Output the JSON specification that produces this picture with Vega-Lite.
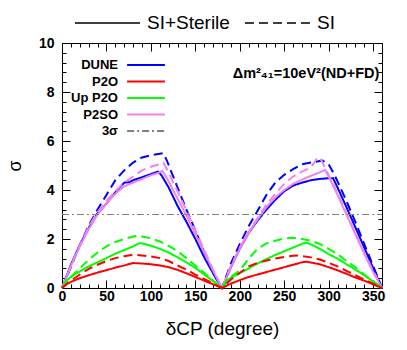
{
 "$schema": "https://vega.github.io/schema/vega-lite/v6.json",
 "width": 320,
 "height": 245,
 "autosize": {"type": "none"},
 "padding": {"left": 62, "top": 43, "right": 25, "bottom": 62},
 "background": "white",
 "config": {"view": {"stroke": "black", "strokeWidth": 1}, "font": "Liberation Sans"},
 "resolve": {"axis": {"x": "independent", "y": "independent"}},
 "layer": [
  {
   "data": {"values": [
    {"e":"DUNE","m":"SI+Sterile","x":0,"y":0},{"e":"DUNE","m":"SI+Sterile","x":10,"y":0.95},{"e":"DUNE","m":"SI+Sterile","x":20,"y":1.75},{"e":"DUNE","m":"SI+Sterile","x":30,"y":2.45},{"e":"DUNE","m":"SI+Sterile","x":40,"y":3.05},{"e":"DUNE","m":"SI+Sterile","x":50,"y":3.45},{"e":"DUNE","m":"SI+Sterile","x":60,"y":3.9},{"e":"DUNE","m":"SI+Sterile","x":70,"y":4.3},{"e":"DUNE","m":"SI+Sterile","x":76,"y":4.32},{"e":"DUNE","m":"SI+Sterile","x":80,"y":4.4},{"e":"DUNE","m":"SI+Sterile","x":90,"y":4.52},{"e":"DUNE","m":"SI+Sterile","x":100,"y":4.65},{"e":"DUNE","m":"SI+Sterile","x":108,"y":4.75},{"e":"DUNE","m":"SI+Sterile","x":112,"y":4.6},{"e":"DUNE","m":"SI+Sterile","x":120,"y":4.1},{"e":"DUNE","m":"SI+Sterile","x":130,"y":3.35},{"e":"DUNE","m":"SI+Sterile","x":140,"y":2.7},{"e":"DUNE","m":"SI+Sterile","x":150,"y":2.0},{"e":"DUNE","m":"SI+Sterile","x":160,"y":1.25},{"e":"DUNE","m":"SI+Sterile","x":170,"y":0.6},{"e":"DUNE","m":"SI+Sterile","x":180,"y":0},{"e":"DUNE","m":"SI+Sterile","x":190,"y":0.85},{"e":"DUNE","m":"SI+Sterile","x":200,"y":1.6},{"e":"DUNE","m":"SI+Sterile","x":210,"y":2.25},{"e":"DUNE","m":"SI+Sterile","x":220,"y":2.75},{"e":"DUNE","m":"SI+Sterile","x":230,"y":3.2},{"e":"DUNE","m":"SI+Sterile","x":240,"y":3.6},{"e":"DUNE","m":"SI+Sterile","x":250,"y":3.95},{"e":"DUNE","m":"SI+Sterile","x":260,"y":4.18},{"e":"DUNE","m":"SI+Sterile","x":270,"y":4.3},{"e":"DUNE","m":"SI+Sterile","x":280,"y":4.4},{"e":"DUNE","m":"SI+Sterile","x":290,"y":4.45},{"e":"DUNE","m":"SI+Sterile","x":300,"y":4.48},{"e":"DUNE","m":"SI+Sterile","x":305,"y":4.48},{"e":"DUNE","m":"SI+Sterile","x":310,"y":4.1},{"e":"DUNE","m":"SI+Sterile","x":320,"y":3.3},{"e":"DUNE","m":"SI+Sterile","x":330,"y":2.48},{"e":"DUNE","m":"SI+Sterile","x":340,"y":1.65},{"e":"DUNE","m":"SI+Sterile","x":350,"y":0.82},{"e":"DUNE","m":"SI+Sterile","x":360,"y":0},
    {"e":"DUNE","m":"SI","x":0,"y":0},{"e":"DUNE","m":"SI","x":10,"y":0.85},{"e":"DUNE","m":"SI","x":20,"y":1.75},{"e":"DUNE","m":"SI","x":30,"y":2.55},{"e":"DUNE","m":"SI","x":40,"y":3.2},{"e":"DUNE","m":"SI","x":50,"y":3.8},{"e":"DUNE","m":"SI","x":60,"y":4.4},{"e":"DUNE","m":"SI","x":70,"y":4.8},{"e":"DUNE","m":"SI","x":80,"y":5.12},{"e":"DUNE","m":"SI","x":90,"y":5.33},{"e":"DUNE","m":"SI","x":100,"y":5.42},{"e":"DUNE","m":"SI","x":110,"y":5.48},{"e":"DUNE","m":"SI","x":114,"y":5.5},{"e":"DUNE","m":"SI","x":118,"y":5.2},{"e":"DUNE","m":"SI","x":130,"y":4.1},{"e":"DUNE","m":"SI","x":140,"y":3.2},{"e":"DUNE","m":"SI","x":150,"y":2.35},{"e":"DUNE","m":"SI","x":160,"y":1.45},{"e":"DUNE","m":"SI","x":170,"y":0.6},{"e":"DUNE","m":"SI","x":180,"y":0},{"e":"DUNE","m":"SI","x":190,"y":1.0},{"e":"DUNE","m":"SI","x":200,"y":1.8},{"e":"DUNE","m":"SI","x":210,"y":2.52},{"e":"DUNE","m":"SI","x":220,"y":3.15},{"e":"DUNE","m":"SI","x":230,"y":3.8},{"e":"DUNE","m":"SI","x":240,"y":4.3},{"e":"DUNE","m":"SI","x":250,"y":4.62},{"e":"DUNE","m":"SI","x":260,"y":4.85},{"e":"DUNE","m":"SI","x":270,"y":5.05},{"e":"DUNE","m":"SI","x":280,"y":5.12},{"e":"DUNE","m":"SI","x":290,"y":5.18},{"e":"DUNE","m":"SI","x":293,"y":5.2},{"e":"DUNE","m":"SI","x":300,"y":5.05},{"e":"DUNE","m":"SI","x":306,"y":4.65},{"e":"DUNE","m":"SI","x":310,"y":4.35},{"e":"DUNE","m":"SI","x":320,"y":3.55},{"e":"DUNE","m":"SI","x":330,"y":2.7},{"e":"DUNE","m":"SI","x":340,"y":1.8},{"e":"DUNE","m":"SI","x":350,"y":0.9},{"e":"DUNE","m":"SI","x":360,"y":0},
    {"e":"P2SO","m":"SI+Sterile","x":0,"y":0},{"e":"P2SO","m":"SI+Sterile","x":10,"y":0.9},{"e":"P2SO","m":"SI+Sterile","x":20,"y":1.7},{"e":"P2SO","m":"SI+Sterile","x":30,"y":2.4},{"e":"P2SO","m":"SI+Sterile","x":40,"y":3.0},{"e":"P2SO","m":"SI+Sterile","x":50,"y":3.45},{"e":"P2SO","m":"SI+Sterile","x":60,"y":3.85},{"e":"P2SO","m":"SI+Sterile","x":70,"y":4.15},{"e":"P2SO","m":"SI+Sterile","x":80,"y":4.3},{"e":"P2SO","m":"SI+Sterile","x":90,"y":4.45},{"e":"P2SO","m":"SI+Sterile","x":100,"y":4.6},{"e":"P2SO","m":"SI+Sterile","x":110,"y":4.72},{"e":"P2SO","m":"SI+Sterile","x":113,"y":4.78},{"e":"P2SO","m":"SI+Sterile","x":116,"y":4.6},{"e":"P2SO","m":"SI+Sterile","x":120,"y":4.35},{"e":"P2SO","m":"SI+Sterile","x":130,"y":3.65},{"e":"P2SO","m":"SI+Sterile","x":140,"y":2.95},{"e":"P2SO","m":"SI+Sterile","x":150,"y":2.2},{"e":"P2SO","m":"SI+Sterile","x":160,"y":1.45},{"e":"P2SO","m":"SI+Sterile","x":170,"y":0.7},{"e":"P2SO","m":"SI+Sterile","x":180,"y":0},{"e":"P2SO","m":"SI+Sterile","x":190,"y":0.85},{"e":"P2SO","m":"SI+Sterile","x":200,"y":1.6},{"e":"P2SO","m":"SI+Sterile","x":210,"y":2.25},{"e":"P2SO","m":"SI+Sterile","x":220,"y":2.8},{"e":"P2SO","m":"SI+Sterile","x":230,"y":3.3},{"e":"P2SO","m":"SI+Sterile","x":240,"y":3.7},{"e":"P2SO","m":"SI+Sterile","x":250,"y":4.0},{"e":"P2SO","m":"SI+Sterile","x":260,"y":4.25},{"e":"P2SO","m":"SI+Sterile","x":270,"y":4.42},{"e":"P2SO","m":"SI+Sterile","x":280,"y":4.58},{"e":"P2SO","m":"SI+Sterile","x":290,"y":4.72},{"e":"P2SO","m":"SI+Sterile","x":296,"y":4.82},{"e":"P2SO","m":"SI+Sterile","x":300,"y":4.55},{"e":"P2SO","m":"SI+Sterile","x":310,"y":3.8},{"e":"P2SO","m":"SI+Sterile","x":320,"y":3.0},{"e":"P2SO","m":"SI+Sterile","x":330,"y":2.2},{"e":"P2SO","m":"SI+Sterile","x":340,"y":1.4},{"e":"P2SO","m":"SI+Sterile","x":350,"y":0.65},{"e":"P2SO","m":"SI+Sterile","x":360,"y":0},
    {"e":"P2SO","m":"SI","x":0,"y":0},{"e":"P2SO","m":"SI","x":10,"y":0.9},{"e":"P2SO","m":"SI","x":20,"y":1.75},{"e":"P2SO","m":"SI","x":30,"y":2.5},{"e":"P2SO","m":"SI","x":40,"y":3.1},{"e":"P2SO","m":"SI","x":50,"y":3.55},{"e":"P2SO","m":"SI","x":60,"y":3.95},{"e":"P2SO","m":"SI","x":70,"y":4.3},{"e":"P2SO","m":"SI","x":80,"y":4.55},{"e":"P2SO","m":"SI","x":90,"y":4.8},{"e":"P2SO","m":"SI","x":100,"y":4.95},{"e":"P2SO","m":"SI","x":110,"y":5.05},{"e":"P2SO","m":"SI","x":114,"y":5.12},{"e":"P2SO","m":"SI","x":118,"y":4.85},{"e":"P2SO","m":"SI","x":130,"y":3.95},{"e":"P2SO","m":"SI","x":140,"y":3.15},{"e":"P2SO","m":"SI","x":150,"y":2.35},{"e":"P2SO","m":"SI","x":160,"y":1.55},{"e":"P2SO","m":"SI","x":170,"y":0.75},{"e":"P2SO","m":"SI","x":180,"y":0},{"e":"P2SO","m":"SI","x":190,"y":0.9},{"e":"P2SO","m":"SI","x":200,"y":1.65},{"e":"P2SO","m":"SI","x":210,"y":2.3},{"e":"P2SO","m":"SI","x":220,"y":2.85},{"e":"P2SO","m":"SI","x":230,"y":3.4},{"e":"P2SO","m":"SI","x":240,"y":3.85},{"e":"P2SO","m":"SI","x":250,"y":4.25},{"e":"P2SO","m":"SI","x":260,"y":4.55},{"e":"P2SO","m":"SI","x":270,"y":4.75},{"e":"P2SO","m":"SI","x":280,"y":4.92},{"e":"P2SO","m":"SI","x":288,"y":5.35},{"e":"P2SO","m":"SI","x":292,"y":5.2},{"e":"P2SO","m":"SI","x":300,"y":4.6},{"e":"P2SO","m":"SI","x":310,"y":3.85},{"e":"P2SO","m":"SI","x":320,"y":3.05},{"e":"P2SO","m":"SI","x":330,"y":2.25},{"e":"P2SO","m":"SI","x":340,"y":1.45},{"e":"P2SO","m":"SI","x":350,"y":0.7},{"e":"P2SO","m":"SI","x":360,"y":0},
    {"e":"Up P2O","m":"SI+Sterile","x":0,"y":0},{"e":"Up P2O","m":"SI+Sterile","x":5,"y":0.3},{"e":"Up P2O","m":"SI+Sterile","x":10,"y":0.45},{"e":"Up P2O","m":"SI+Sterile","x":20,"y":0.68},{"e":"Up P2O","m":"SI+Sterile","x":30,"y":0.88},{"e":"Up P2O","m":"SI+Sterile","x":40,"y":1.05},{"e":"Up P2O","m":"SI+Sterile","x":50,"y":1.22},{"e":"Up P2O","m":"SI+Sterile","x":60,"y":1.4},{"e":"Up P2O","m":"SI+Sterile","x":70,"y":1.55},{"e":"Up P2O","m":"SI+Sterile","x":80,"y":1.7},{"e":"Up P2O","m":"SI+Sterile","x":87,"y":1.83},{"e":"Up P2O","m":"SI+Sterile","x":90,"y":1.82},{"e":"Up P2O","m":"SI+Sterile","x":100,"y":1.73},{"e":"Up P2O","m":"SI+Sterile","x":110,"y":1.6},{"e":"Up P2O","m":"SI+Sterile","x":120,"y":1.45},{"e":"Up P2O","m":"SI+Sterile","x":130,"y":1.25},{"e":"Up P2O","m":"SI+Sterile","x":140,"y":1.05},{"e":"Up P2O","m":"SI+Sterile","x":150,"y":0.82},{"e":"Up P2O","m":"SI+Sterile","x":160,"y":0.55},{"e":"Up P2O","m":"SI+Sterile","x":170,"y":0.28},{"e":"Up P2O","m":"SI+Sterile","x":180,"y":0},{"e":"Up P2O","m":"SI+Sterile","x":185,"y":0.3},{"e":"Up P2O","m":"SI+Sterile","x":190,"y":0.42},{"e":"Up P2O","m":"SI+Sterile","x":200,"y":0.6},{"e":"Up P2O","m":"SI+Sterile","x":210,"y":0.8},{"e":"Up P2O","m":"SI+Sterile","x":220,"y":1.0},{"e":"Up P2O","m":"SI+Sterile","x":230,"y":1.18},{"e":"Up P2O","m":"SI+Sterile","x":240,"y":1.35},{"e":"Up P2O","m":"SI+Sterile","x":250,"y":1.5},{"e":"Up P2O","m":"SI+Sterile","x":260,"y":1.65},{"e":"Up P2O","m":"SI+Sterile","x":270,"y":1.8},{"e":"Up P2O","m":"SI+Sterile","x":275,"y":1.85},{"e":"Up P2O","m":"SI+Sterile","x":280,"y":1.78},{"e":"Up P2O","m":"SI+Sterile","x":290,"y":1.6},{"e":"Up P2O","m":"SI+Sterile","x":300,"y":1.38},{"e":"Up P2O","m":"SI+Sterile","x":310,"y":1.2},{"e":"Up P2O","m":"SI+Sterile","x":320,"y":0.97},{"e":"Up P2O","m":"SI+Sterile","x":330,"y":0.75},{"e":"Up P2O","m":"SI+Sterile","x":340,"y":0.52},{"e":"Up P2O","m":"SI+Sterile","x":350,"y":0.27},{"e":"Up P2O","m":"SI+Sterile","x":360,"y":0},
    {"e":"Up P2O","m":"SI","x":0,"y":0},{"e":"Up P2O","m":"SI","x":10,"y":0.45},{"e":"Up P2O","m":"SI","x":20,"y":0.8},{"e":"Up P2O","m":"SI","x":30,"y":1.15},{"e":"Up P2O","m":"SI","x":40,"y":1.45},{"e":"Up P2O","m":"SI","x":50,"y":1.7},{"e":"Up P2O","m":"SI","x":60,"y":1.88},{"e":"Up P2O","m":"SI","x":70,"y":2.0},{"e":"Up P2O","m":"SI","x":80,"y":2.1},{"e":"Up P2O","m":"SI","x":85,"y":2.13},{"e":"Up P2O","m":"SI","x":90,"y":2.1},{"e":"Up P2O","m":"SI","x":100,"y":2.03},{"e":"Up P2O","m":"SI","x":110,"y":1.9},{"e":"Up P2O","m":"SI","x":120,"y":1.72},{"e":"Up P2O","m":"SI","x":130,"y":1.5},{"e":"Up P2O","m":"SI","x":140,"y":1.22},{"e":"Up P2O","m":"SI","x":150,"y":0.92},{"e":"Up P2O","m":"SI","x":160,"y":0.62},{"e":"Up P2O","m":"SI","x":170,"y":0.3},{"e":"Up P2O","m":"SI","x":180,"y":0},{"e":"Up P2O","m":"SI","x":190,"y":0.45},{"e":"Up P2O","m":"SI","x":200,"y":0.72},{"e":"Up P2O","m":"SI","x":210,"y":1.2},{"e":"Up P2O","m":"SI","x":220,"y":1.6},{"e":"Up P2O","m":"SI","x":230,"y":1.82},{"e":"Up P2O","m":"SI","x":240,"y":1.93},{"e":"Up P2O","m":"SI","x":250,"y":2.02},{"e":"Up P2O","m":"SI","x":260,"y":2.05},{"e":"Up P2O","m":"SI","x":270,"y":2.0},{"e":"Up P2O","m":"SI","x":280,"y":1.93},{"e":"Up P2O","m":"SI","x":290,"y":1.8},{"e":"Up P2O","m":"SI","x":300,"y":1.6},{"e":"Up P2O","m":"SI","x":310,"y":1.38},{"e":"Up P2O","m":"SI","x":320,"y":1.1},{"e":"Up P2O","m":"SI","x":330,"y":0.85},{"e":"Up P2O","m":"SI","x":340,"y":0.55},{"e":"Up P2O","m":"SI","x":350,"y":0.27},{"e":"Up P2O","m":"SI","x":360,"y":0},
    {"e":"P2O","m":"SI+Sterile","x":0,"y":0},{"e":"P2O","m":"SI+Sterile","x":5,"y":0.15},{"e":"P2O","m":"SI+Sterile","x":10,"y":0.25},{"e":"P2O","m":"SI+Sterile","x":20,"y":0.4},{"e":"P2O","m":"SI+Sterile","x":30,"y":0.52},{"e":"P2O","m":"SI+Sterile","x":40,"y":0.63},{"e":"P2O","m":"SI+Sterile","x":50,"y":0.73},{"e":"P2O","m":"SI+Sterile","x":60,"y":0.83},{"e":"P2O","m":"SI+Sterile","x":70,"y":0.92},{"e":"P2O","m":"SI+Sterile","x":80,"y":1.02},{"e":"P2O","m":"SI+Sterile","x":90,"y":1.0},{"e":"P2O","m":"SI+Sterile","x":100,"y":0.97},{"e":"P2O","m":"SI+Sterile","x":110,"y":0.92},{"e":"P2O","m":"SI+Sterile","x":120,"y":0.85},{"e":"P2O","m":"SI+Sterile","x":130,"y":0.74},{"e":"P2O","m":"SI+Sterile","x":140,"y":0.6},{"e":"P2O","m":"SI+Sterile","x":150,"y":0.45},{"e":"P2O","m":"SI+Sterile","x":160,"y":0.3},{"e":"P2O","m":"SI+Sterile","x":170,"y":0.15},{"e":"P2O","m":"SI+Sterile","x":180,"y":0},{"e":"P2O","m":"SI+Sterile","x":190,"y":0.18},{"e":"P2O","m":"SI+Sterile","x":200,"y":0.32},{"e":"P2O","m":"SI+Sterile","x":210,"y":0.45},{"e":"P2O","m":"SI+Sterile","x":220,"y":0.55},{"e":"P2O","m":"SI+Sterile","x":230,"y":0.65},{"e":"P2O","m":"SI+Sterile","x":240,"y":0.75},{"e":"P2O","m":"SI+Sterile","x":250,"y":0.85},{"e":"P2O","m":"SI+Sterile","x":260,"y":0.95},{"e":"P2O","m":"SI+Sterile","x":270,"y":1.05},{"e":"P2O","m":"SI+Sterile","x":275,"y":1.07},{"e":"P2O","m":"SI+Sterile","x":280,"y":1.04},{"e":"P2O","m":"SI+Sterile","x":290,"y":0.97},{"e":"P2O","m":"SI+Sterile","x":300,"y":0.85},{"e":"P2O","m":"SI+Sterile","x":310,"y":0.72},{"e":"P2O","m":"SI+Sterile","x":320,"y":0.58},{"e":"P2O","m":"SI+Sterile","x":330,"y":0.43},{"e":"P2O","m":"SI+Sterile","x":340,"y":0.3},{"e":"P2O","m":"SI+Sterile","x":350,"y":0.15},{"e":"P2O","m":"SI+Sterile","x":360,"y":0},
    {"e":"P2O","m":"SI","x":0,"y":0},{"e":"P2O","m":"SI","x":10,"y":0.3},{"e":"P2O","m":"SI","x":20,"y":0.55},{"e":"P2O","m":"SI","x":30,"y":0.78},{"e":"P2O","m":"SI","x":40,"y":0.95},{"e":"P2O","m":"SI","x":50,"y":1.1},{"e":"P2O","m":"SI","x":60,"y":1.22},{"e":"P2O","m":"SI","x":70,"y":1.3},{"e":"P2O","m":"SI","x":80,"y":1.36},{"e":"P2O","m":"SI","x":90,"y":1.33},{"e":"P2O","m":"SI","x":100,"y":1.29},{"e":"P2O","m":"SI","x":110,"y":1.22},{"e":"P2O","m":"SI","x":120,"y":1.1},{"e":"P2O","m":"SI","x":130,"y":0.92},{"e":"P2O","m":"SI","x":140,"y":0.75},{"e":"P2O","m":"SI","x":150,"y":0.55},{"e":"P2O","m":"SI","x":160,"y":0.37},{"e":"P2O","m":"SI","x":170,"y":0.18},{"e":"P2O","m":"SI","x":180,"y":0},{"e":"P2O","m":"SI","x":190,"y":0.35},{"e":"P2O","m":"SI","x":200,"y":0.62},{"e":"P2O","m":"SI","x":210,"y":0.88},{"e":"P2O","m":"SI","x":220,"y":1.02},{"e":"P2O","m":"SI","x":230,"y":1.12},{"e":"P2O","m":"SI","x":240,"y":1.2},{"e":"P2O","m":"SI","x":250,"y":1.27},{"e":"P2O","m":"SI","x":260,"y":1.32},{"e":"P2O","m":"SI","x":265,"y":1.33},{"e":"P2O","m":"SI","x":270,"y":1.3},{"e":"P2O","m":"SI","x":280,"y":1.25},{"e":"P2O","m":"SI","x":290,"y":1.16},{"e":"P2O","m":"SI","x":300,"y":1.03},{"e":"P2O","m":"SI","x":310,"y":0.88},{"e":"P2O","m":"SI","x":320,"y":0.7},{"e":"P2O","m":"SI","x":330,"y":0.52},{"e":"P2O","m":"SI","x":340,"y":0.35},{"e":"P2O","m":"SI","x":350,"y":0.18},{"e":"P2O","m":"SI","x":360,"y":0}
   ]},
   "mark": {"type": "line", "strokeWidth": 2},
   "encoding": {
    "x": {"field": "x", "type": "quantitative",
          "scale": {"domain": [0, 360], "nice": false, "zero": false},
          "axis": {"orient": "bottom", "values": [0,10,20,30,40,50,60,70,80,90,100,110,120,130,140,150,160,170,180,190,200,210,220,230,240,250,260,270,280,290,300,310,320,330,340,350,360],
                   "labelExpr": "(datum.value % 50 == 0 && datum.value < 360) ? datum.label : ''",
                   "tickSize": {"condition": {"test": "datum.value % 50 == 0", "value": -8}, "value": -4},
                   "tickColor": "black", "tickWidth": 1, "domain": false, "grid": false,
                   "labelFont": "Liberation Sans", "labelFontWeight": "bold", "labelFontSize": 14, "labelColor": "black",
                   "labelPadding": 9, "labelFlush": false, "labelOverlap": false,
                   "title": "δCP (degree)", "titleFont": "Liberation Sans", "titleFontSize": 19, "titleFontWeight": "normal", "titleColor": "black", "titlePadding": 12}},
    "y": {"field": "y", "type": "quantitative",
          "scale": {"domain": [0, 10], "nice": false, "zero": true},
          "axis": {"orient": "left", "values": [0,0.4,0.8,1.2,1.6,2,2.4,2.8,3.2,3.6,4,4.4,4.8,5.2,5.6,6,6.4,6.8,7.2,7.6,8,8.4,8.8,9.2,9.6,10],
                   "labelExpr": "abs(datum.value/2 - round(datum.value/2)) < 0.01 ? '' + round(datum.value) : ''",
                   "tickSize": {"condition": {"test": "abs(datum.value/2 - round(datum.value/2)) < 0.01", "value": -8}, "value": -4},
                   "tickColor": "black", "tickWidth": 1, "domain": false, "grid": false,
                   "labelFont": "Liberation Sans", "labelFontWeight": "bold", "labelFontSize": 14, "labelColor": "black",
                   "labelPadding": 16, "labelFlush": false, "labelOverlap": false,
                   "title": "σ", "titleFont": "Liberation Sans", "titleFontSize": 18, "titleFontWeight": "normal", "titleColor": "black", "titlePadding": 14}},
    "color": {"field": "e", "type": "nominal",
              "scale": {"domain": ["DUNE", "P2O", "Up P2O", "P2SO", "3σ"], "range": ["#0000ff", "#ff0000", "#00ff00", "#ee82ee", "#808080"]},
              "legend": {"orient": "none", "legendX": 76, "legendY": 14, "direction": "vertical", "title": null,
                         "symbolType": "M-2.7,0H2.7", "symbolSize": 196, "symbolStrokeWidth": 2, "rowPadding": 1.5,
                         "labelAlign": "right", "labelOffset": -36, "labelFont": "Liberation Sans", "labelFontWeight": "bold", "labelFontSize": 13, "labelColor": "black",
                         "padding": 0,
                         "encode": {"symbols": {"update": {
                            "strokeDash": {"signal": "datum.label == '3σ' ? [7,3,2,3] : [1,0]"}}}}}},
    "strokeDash": {"field": "m", "type": "nominal",
                   "scale": {"domain": ["SI+Sterile", "SI"], "range": [[1, 0], [9, 5]]},
                   "legend": {"orient": "none", "legendX": 12, "legendY": -30, "direction": "horizontal", "title": null,
                              "symbolType": "stroke", "symbolSize": 4225, "symbolStrokeWidth": 1.5, "symbolStrokeColor": "black", "clipHeight": 20,
                              "columnPadding": 14, "labelOffset": 6, "labelFont": "Liberation Sans", "labelFontWeight": "normal", "labelFontSize": 19, "labelColor": "black", "padding": 0}}
   }
  },
  {
   "data": {"values": [{"lvl": 3, "e": "3σ"}]},
   "mark": {"type": "rule", "strokeDash": [7, 3, 2, 3], "strokeWidth": 1.2},
   "encoding": {
    "x": {"datum": 0, "type": "quantitative",
          "axis": {"orient": "top", "values": [0,10,20,30,40,50,60,70,80,90,100,110,120,130,140,150,160,170,180,190,200,210,220,230,240,250,260,270,280,290,300,310,320,330,340,350,360],
                   "labels": false, "title": null, "domain": false, "grid": false, "tickColor": "black", "tickWidth": 1,
                   "tickSize": {"condition": {"test": "datum.value % 50 == 0", "value": -8}, "value": -4}}},
    "x2": {"datum": 360},
    "y": {"field": "lvl", "type": "quantitative",
          "axis": {"orient": "right", "values": [0,0.4,0.8,1.2,1.6,2,2.4,2.8,3.2,3.6,4,4.4,4.8,5.2,5.6,6,6.4,6.8,7.2,7.6,8,8.4,8.8,9.2,9.6,10],
                   "labels": false, "title": null, "domain": false, "grid": false, "tickColor": "black", "tickWidth": 1,
                   "tickSize": {"condition": {"test": "abs(datum.value/2 - round(datum.value/2)) < 0.01", "value": -8}, "value": -4}}},
    "color": {"field": "e", "type": "nominal"}
   }
  },
  {
   "data": {"values": [{"t": "Δm²₄₁=10eV²(ND+FD)"}]},
   "mark": {"type": "text", "align": "right", "baseline": "middle", "font": "Liberation Sans", "fontWeight": "bold", "fontSize": 14.5, "color": "black"},
   "encoding": {
    "x": {"datum": 357, "type": "quantitative", "axis": null},
    "y": {"datum": 8.72, "type": "quantitative", "axis": null},
    "text": {"field": "t"}
   }
  }
 ]
}
